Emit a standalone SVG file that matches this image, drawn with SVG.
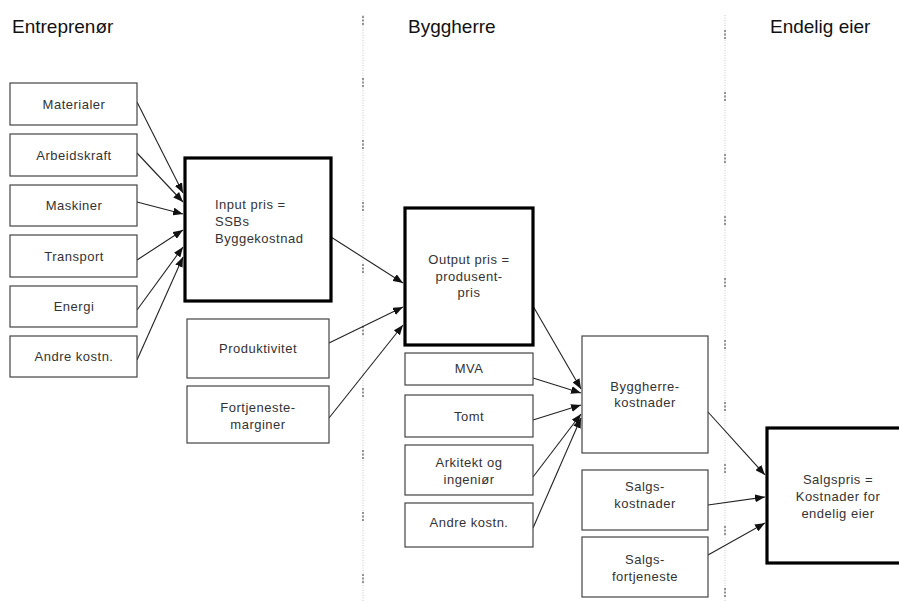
<svg xmlns="http://www.w3.org/2000/svg" width="899" height="601" viewBox="0 0 899 601">
  <defs>
    <marker id="arrow" markerUnits="userSpaceOnUse" markerWidth="10" markerHeight="8" refX="10" refY="4" orient="auto">
      <path d="M0,0 L10,4 L0,8 z" fill="#111"/>
    </marker>
  </defs>
  <style>
    .hdr { font-family: "Liberation Sans", Arial, sans-serif; font-size: 19px; fill: #111; }
    .lbl { font-family: "Liberation Sans", Arial, sans-serif; font-size: 13px; letter-spacing: 0.5px; fill: #333; text-anchor: middle; }
    .lbl-left { font-family: "Liberation Sans", Arial, sans-serif; font-size: 13px; letter-spacing: 0.5px; fill: #333; }
    .box { fill: #fff; stroke: #444; stroke-width: 1.2; }
    .key { fill: #fff; stroke: #000; stroke-width: 3.2; }
    .conn { stroke: #222; stroke-width: 1.1; fill: none; marker-end: url(#arrow); }
    .div-light { stroke: #c8c8c8; stroke-width: 1; stroke-dasharray: 1 1.5; }
    .div-dark { stroke: #555; stroke-width: 1.2; stroke-dasharray: 2 1.5 2 1.5 2 53; }
  </style>

  <!-- column dividers -->
  <g id="dividers">
    <line class="div-light" x1="363" y1="15" x2="363" y2="601"/>
    <line class="div-dark" x1="363" y1="16" x2="363" y2="601"/>
    <line class="div-light" x1="725" y1="15" x2="725" y2="601"/>
    <line class="div-dark" x1="725" y1="30" x2="725" y2="601"/>
  </g>

  <!-- column headings -->
  <g id="headings">
    <text class="hdr" x="12" y="33">Entreprenør</text>
    <text class="hdr" x="408" y="33">Byggherre</text>
    <text class="hdr" x="770" y="33">Endelig eier</text>
  </g>

  <!-- connectors -->
  <g id="connectors">
    <line class="conn" x1="137" y1="102" x2="183" y2="193"/>
    <line class="conn" x1="137" y1="153" x2="183" y2="202"/>
    <line class="conn" x1="137" y1="202" x2="183" y2="214"/>
    <line class="conn" x1="137" y1="260" x2="183" y2="230"/>
    <line class="conn" x1="137" y1="310" x2="183" y2="247"/>
    <line class="conn" x1="137" y1="360" x2="183" y2="257"/>

    <line class="conn" x1="331" y1="237" x2="403" y2="283"/>
    <line class="conn" x1="329" y1="343" x2="403" y2="307"/>
    <line class="conn" x1="329" y1="418" x2="403" y2="325"/>

    <line class="conn" x1="533" y1="306" x2="581" y2="389"/>
    <line class="conn" x1="533" y1="378" x2="581" y2="393"/>
    <line class="conn" x1="533" y1="420" x2="581" y2="405"/>
    <line class="conn" x1="533" y1="477" x2="581" y2="414"/>
    <line class="conn" x1="533" y1="528" x2="581" y2="418"/>

    <line class="conn" x1="708" y1="412" x2="765" y2="475"/>
    <line class="conn" x1="708" y1="505" x2="765" y2="497"/>
    <line class="conn" x1="708" y1="555" x2="765" y2="523"/>
  </g>

  <!-- contractor inputs -->
  <g id="materialer">
    <rect class="box" x="10" y="83" width="127" height="42"/>
    <text class="lbl" x="74" y="109">Materialer</text>
  </g>
  <g id="arbeidskraft">
    <rect class="box" x="10" y="134" width="127" height="42"/>
    <text class="lbl" x="74" y="160">Arbeidskraft</text>
  </g>
  <g id="maskiner">
    <rect class="box" x="10" y="185" width="127" height="41"/>
    <text class="lbl" x="74" y="210">Maskiner</text>
  </g>
  <g id="transport">
    <rect class="box" x="10" y="235" width="127" height="42"/>
    <text class="lbl" x="74" y="261">Transport</text>
  </g>
  <g id="energi">
    <rect class="box" x="10" y="286" width="127" height="41"/>
    <text class="lbl" x="74" y="311">Energi</text>
  </g>
  <g id="andre-kostn-1">
    <rect class="box" x="10" y="336" width="127" height="41"/>
    <text class="lbl" x="74" y="361">Andre kostn.</text>
  </g>

  <!-- input price -->
  <g id="input-pris">
    <rect class="key" x="185" y="158" width="146" height="143"/>
    <text class="lbl-left" x="215" y="209">Input pris =</text>
    <text class="lbl-left" x="215" y="226">SSBs</text>
    <text class="lbl-left" x="215" y="243">Byggekostnad</text>
  </g>
  <g id="produktivitet">
    <rect class="box" x="187" y="319" width="142" height="59"/>
    <text class="lbl" x="258" y="353">Produktivitet</text>
  </g>
  <g id="fortjenestemarginer">
    <rect class="box" x="187" y="386" width="142" height="57"/>
    <text class="lbl" x="258" y="412">Fortjeneste-</text>
    <text class="lbl" x="258" y="429">marginer</text>
  </g>

  <!-- output price and developer costs -->
  <g id="output-pris">
    <rect class="key" x="405" y="208" width="128" height="137"/>
    <text class="lbl" x="469" y="264">Output pris =</text>
    <text class="lbl" x="469" y="281">produsent-</text>
    <text class="lbl" x="469" y="297">pris</text>
  </g>
  <g id="mva">
    <rect class="box" x="405" y="353" width="128" height="32"/>
    <text class="lbl" x="469" y="373">MVA</text>
  </g>
  <g id="tomt">
    <rect class="box" x="405" y="395" width="128" height="42"/>
    <text class="lbl" x="469" y="421">Tomt</text>
  </g>
  <g id="arkitekt">
    <rect class="box" x="405" y="445" width="128" height="50"/>
    <text class="lbl" x="469" y="467">Arkitekt og</text>
    <text class="lbl" x="469" y="484">ingeniør</text>
  </g>
  <g id="andre-kostn-2">
    <rect class="box" x="405" y="503" width="128" height="44"/>
    <text class="lbl" x="469" y="527">Andre kostn.</text>
  </g>

  <g id="byggherrekostnader">
    <rect class="box" x="582" y="336" width="126" height="117"/>
    <text class="lbl" x="645" y="391">Byggherre-</text>
    <text class="lbl" x="645" y="407">kostnader</text>
  </g>
  <g id="salgskostnader">
    <rect class="box" x="582" y="470" width="126" height="60"/>
    <text class="lbl" x="645" y="491">Salgs-</text>
    <text class="lbl" x="645" y="508">kostnader</text>
  </g>
  <g id="salgsfortjeneste">
    <rect class="box" x="582" y="537" width="126" height="60"/>
    <text class="lbl" x="645" y="564">Salgs-</text>
    <text class="lbl" x="645" y="581">fortjeneste</text>
  </g>

  <!-- final owner -->
  <g id="salgspris">
    <rect class="key" x="767" y="428" width="142" height="135"/>
    <text class="lbl" x="838" y="484">Salgspris =</text>
    <text class="lbl" x="838" y="501">Kostnader for</text>
    <text class="lbl" x="838" y="518">endelig eier</text>
  </g>
</svg>
